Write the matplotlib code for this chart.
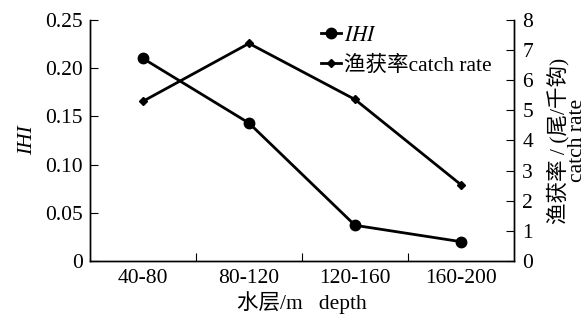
import matplotlib.pyplot as plt

plt.rcParams['font.family'] = ['Liberation Serif', 'Noto Sans CJK SC']
plt.rcParams['mathtext.fontset'] = 'stix'

depths = ["40-80", "80-120", "120-160", "160-200"]
ihi = [0.210, 0.143, 0.037, 0.020]
catch_rate = [5.30, 7.22, 5.36, 2.53]

xpos = [i + 0.5 for i in range(len(depths))]

fig = plt.figure(figsize=(5.86, 3.21), dpi=100)
ax = fig.add_axes([0.1536, 0.187, 0.7235, 0.751])
ax2 = ax.twinx()

l1, = ax.plot(xpos, ihi, color='black', lw=2.0, marker='o', ms=7.5, label='IHI')
l2, = ax2.plot(xpos, catch_rate, color='black', lw=2.0, marker='D', ms=4,
               label='渔获率catch rate')

fs = 15.5
ax.set_xlim(0, 4)
ax.set_ylim(0, 0.25)
ax2.set_ylim(0, 8)
ax.set_xticks([1, 2, 3])
ax.set_xticklabels([])
ax.set_xticks(xpos, minor=True)
ax.set_xticklabels(depths, minor=True)
ax.tick_params(axis='x', which='minor', length=0, labelsize=fs, pad=6)
ax.tick_params(axis='x', which='major', direction='in', length=6)
ax.set_yticks([0, 0.05, 0.10, 0.15, 0.20, 0.25])
ax.set_yticklabels(['0', '0.05', '0.10', '0.15', '0.20', '0.25'])
ax.tick_params(axis='y', direction='in', length=6, labelsize=fs, pad=5)
ax2.set_yticks(range(0, 9))
ax2.tick_params(axis='y', direction='in', length=6, labelsize=fs, pad=6)

for a in (ax, ax2):
    a.spines['top'].set_visible(False)
    for s in a.spines.values():
        s.set_linewidth(1.0)

ax.set_ylabel('IHI', fontsize=fs, style='italic', labelpad=6)
ax.set_xlabel('水层/m   depth', fontsize=fs, labelpad=2)
ax2.set_ylabel('渔获率 / (尾/千钩)\ncatch rate', fontsize=fs, linespacing=0.85,
               labelpad=10)

leg = ax.legend([l1, l2], ['$\\mathit{IHI}$', '渔获率catch rate'],
                loc='upper left', bbox_to_anchor=(0.515, 1.03), frameon=False,
                fontsize=fs, handlelength=0.9, handletextpad=0.15,
                labelspacing=0.45, borderaxespad=0.2)

fig.savefig('out.png', dpi=100)
